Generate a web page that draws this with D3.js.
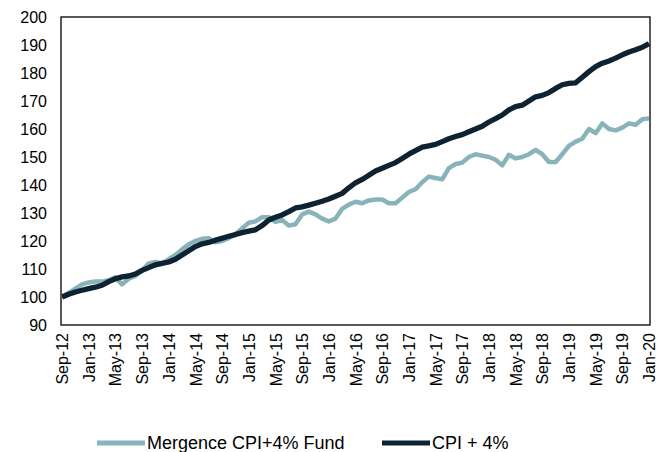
<!DOCTYPE html>
<html>
<head>
<meta charset="utf-8">
<script src="https://cdn.jsdelivr.net/npm/d3@7"></script>
<style>
  html, body { margin: 0; padding: 0; background: #fff; }
  svg { display: block; }
  text { font-family: "Liberation Sans", Arial, sans-serif; fill: #000; }
</style>
</head>
<body>
<svg id="chart" width="665" height="452"></svg>
<script>
const months = [
  "Sep-12","Oct-12","Nov-12","Dec-12",
  "Jan-13","Feb-13","Mar-13","Apr-13","May-13","Jun-13","Jul-13","Aug-13","Sep-13","Oct-13","Nov-13","Dec-13",
  "Jan-14","Feb-14","Mar-14","Apr-14","May-14","Jun-14","Jul-14","Aug-14","Sep-14","Oct-14","Nov-14","Dec-14",
  "Jan-15","Feb-15","Mar-15","Apr-15","May-15","Jun-15","Jul-15","Aug-15","Sep-15","Oct-15","Nov-15","Dec-15",
  "Jan-16","Feb-16","Mar-16","Apr-16","May-16","Jun-16","Jul-16","Aug-16","Sep-16","Oct-16","Nov-16","Dec-16",
  "Jan-17","Feb-17","Mar-17","Apr-17","May-17","Jun-17","Jul-17","Aug-17","Sep-17","Oct-17","Nov-17","Dec-17",
  "Jan-18","Feb-18","Mar-18","Apr-18","May-18","Jun-18","Jul-18","Aug-18","Sep-18","Oct-18","Nov-18","Dec-18",
  "Jan-19","Feb-19","Mar-19","Apr-19","May-19","Jun-19","Jul-19","Aug-19","Sep-19","Oct-19","Nov-19","Dec-19",
  "Jan-20"
];

const fundValues = [
  100, 101.5, 103, 104.5,
  105.2, 105.5, 105.5, 106, 107, 104.5, 106.5, 107.5, 109.5, 112, 112.5, 112,
  113.5, 115, 117, 118.8, 120, 120.8, 121, 119.5, 120, 121, 122.5, 124.5,
  126.5, 127, 128.5, 128.5, 126.8, 127.5, 125.5, 126, 129.5, 130.5, 129.5, 128,
  127, 128, 131.5, 133, 134, 133.5, 134.5, 134.8, 134.8, 133.5, 133.5, 135.5,
  137.5, 138.5, 141, 143, 142.5, 142, 146, 147.5, 148, 150, 151, 150.5,
  150, 149, 147, 150.8, 149.5, 150, 151, 152.5, 151, 148.2, 148.2, 151,
  154, 155.5, 156.5, 160, 158.5, 162, 160, 159.5, 160.5, 162, 161.5, 163.5,
  163.8
];

const cpiValues = [
  100, 101, 101.8, 102.4,
  103, 103.5, 104.2, 105.5, 106.5, 107.2, 107.5, 108.2, 109.5, 110.5, 111.5, 112,
  112.5, 113.5, 115, 116.5, 118, 119, 119.5, 120.3, 121, 121.7, 122.3, 123,
  123.5, 124, 125.5, 127.5, 128.5, 129.3, 130.5, 131.8, 132.2, 132.8, 133.5, 134.2,
  135, 136, 137, 139, 140.8, 142, 143.5, 145, 146, 147, 148, 149.5,
  151, 152.3, 153.5, 154, 154.5, 155.5, 156.5, 157.3, 158, 159, 160, 161,
  162.5, 163.7, 165, 166.8, 168, 168.5, 170, 171.5, 172, 173, 174.5, 175.8,
  176.3, 176.5, 178.5, 180.5, 182.3, 183.5, 184.3, 185.3, 186.5, 187.5, 188.3, 189.2,
  190.5
];

const xTickLabels = ["Sep-12","Jan-13","May-13","Sep-13","Jan-14","May-14","Sep-14","Jan-15","May-15","Sep-15","Jan-16","May-16","Sep-16","Jan-17","May-17","Sep-17","Jan-18","May-18","Sep-18","Jan-19","May-19","Sep-19","Jan-20"];
const yTicks = [90,100,110,120,130,140,150,160,170,180,190,200];

const seriesNames = ["Mergence CPI+4% Fund", "CPI + 4%"];
const seriesColors = ["#88b4b9", "#0e2331"];

const svg = d3.select("#chart");
const plot = { left: 61, right: 650, top: 17, bottom: 325 };

const x = d3.scalePoint().domain(months).range([plot.left + 1, plot.right - 1]);
const y = d3.scaleLinear().domain([90, 200]).range([plot.bottom, plot.top]);

// frame
svg.append("rect")
  .attr("x", plot.left).attr("y", plot.top)
  .attr("width", plot.right - plot.left).attr("height", plot.bottom - plot.top)
  .attr("fill", "none").attr("stroke", "#000").attr("stroke-width", 1.3);

// y axis
const yAxis = svg.append("g")
  .attr("transform", `translate(${plot.left},0)`)
  .call(d3.axisLeft(y).tickValues(yTicks).tickSize(0).tickPadding(14).tickFormat(d3.format("d")));
yAxis.select(".domain").remove();
yAxis.selectAll("text").style("font-size", "16px").style("font-family", "'Liberation Sans', Arial, sans-serif").attr("fill", "#000");

// x axis
const xAxis = svg.append("g")
  .attr("transform", `translate(0,${plot.bottom})`)
  .call(d3.axisBottom(x).tickValues(xTickLabels).tickSize(0));
xAxis.select(".domain").remove();
xAxis.selectAll("text")
  .style("font-size", "16px").style("font-family", "'Liberation Sans', Arial, sans-serif").attr("fill", "#000")
  .attr("text-anchor", "end")
  .attr("transform", "rotate(-90)")
  .attr("x", -8).attr("y", 0).attr("dy", "0.35em");

const line = d3.line()
  .x((d, i) => x(months[i]))
  .y(d => y(d));

svg.append("path").datum(fundValues)
  .attr("d", line).attr("fill", "none")
  .attr("stroke", seriesColors[0]).attr("stroke-width", 4.5)
  .attr("stroke-linejoin", "round");

svg.append("path").datum(cpiValues)
  .attr("d", line).attr("fill", "none")
  .attr("stroke", seriesColors[1]).attr("stroke-width", 5.3)
  .attr("stroke-linejoin", "round");

// legend
const legendItems = [
  { name: seriesNames[0], color: seriesColors[0], x0: 97 },
  { name: seriesNames[1], color: seriesColors[1], x0: 382 }
];
const lg = svg.append("g");
legendItems.forEach(it => {
  lg.append("line")
    .attr("x1", it.x0).attr("x2", it.x0 + 48)
    .attr("y1", 443).attr("y2", 443)
    .attr("stroke", it.color).attr("stroke-width", 5);
  lg.append("text")
    .attr("x", it.x0 + 50).attr("y", 443).attr("dy", "0.36em")
    .style("font-size", "18px")
    .text(it.name);
});
</script>
</body>
</html>
